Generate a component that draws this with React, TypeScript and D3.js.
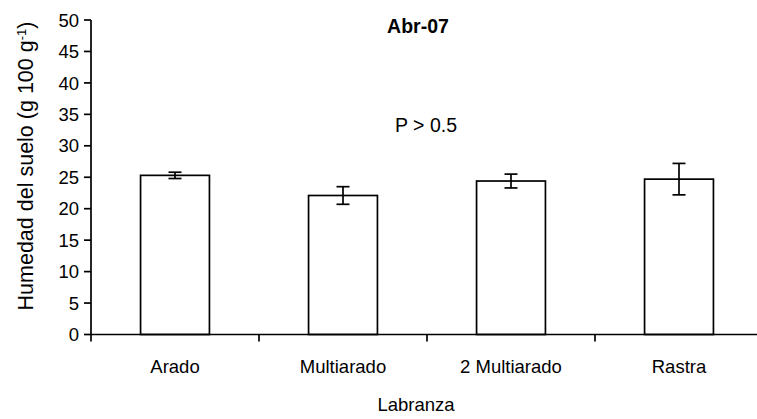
import React from "react";
import * as d3 from "d3";

const categories = ["Arado", "Multiarado", "2 Multiarado", "Rastra"];
const means = [25.3, 22.1, 24.4, 24.7];
const errors = [0.5, 1.4, 1.1, 2.5];
const yTicks = [0, 5, 10, 15, 20, 25, 30, 35, 40, 45, 50];

const W = 757;
const H = 419;
const left = 91;
const bandW = 168;
const top = 20;
const bottom = 334.5;
const font = "Arial, 'Liberation Sans', sans-serif";
const fs = 18.5;

export default function App() {
  const x = d3
    .scaleBand<string>()
    .domain(categories)
    .range([left, left + bandW * categories.length])
    .paddingInner(0.59)
    .paddingOuter(0.295);
  const y = d3.scaleLinear().domain([0, 50]).range([bottom, top]);
  const bw = x.bandwidth();
  const step = x.step();
  const capW = 13;
  const sw = 1.7;

  return (
    <svg
      width={W}
      height={H}
      style={{ position: "absolute", left: 0, top: 0, background: "#fff" }}
      fontFamily={font}
    >
      {/* bars */}
      {categories.map((c, i) => (
        <rect
          key={c}
          x={x(c)!}
          y={y(means[i])}
          width={bw}
          height={y(0) - y(means[i])}
          fill="#fff"
          stroke="#000"
          strokeWidth={sw}
        />
      ))}
      {/* error bars */}
      {categories.map((c, i) => {
        const cx = x(c)! + bw / 2;
        const hi = y(means[i] + errors[i]);
        const lo = y(means[i] - errors[i]);
        return (
          <g key={c} stroke="#000" strokeWidth={sw}>
            <line x1={cx} x2={cx} y1={hi} y2={lo} />
            <line x1={cx - capW / 2} x2={cx + capW / 2} y1={hi} y2={hi} />
            <line x1={cx - capW / 2} x2={cx + capW / 2} y1={lo} y2={lo} />
          </g>
        );
      })}
      {/* y axis */}
      <line x1={left} x2={left} y1={top} y2={bottom} stroke="#000" strokeWidth={sw} />
      {yTicks.map((t) => (
        <g key={t}>
          <line x1={left - 7} x2={left} y1={y(t)} y2={y(t)} stroke="#000" strokeWidth={sw} />
          <text
            x={left - 12}
            y={y(t)}
            dy="0.36em"
            textAnchor="end"
            fontSize={fs}
          >
            {t}
          </text>
        </g>
      ))}
      {/* x axis */}
      <line x1={left} x2={W} y1={bottom} y2={bottom} stroke="#000" strokeWidth={sw} />
      {d3.range(categories.length + 1).map((k) => (
        <line
          key={k}
          x1={left + k * step}
          x2={left + k * step}
          y1={bottom}
          y2={bottom + 7}
          stroke="#000"
          strokeWidth={sw}
        />
      ))}
      {categories.map((c) => (
        <text key={c} x={x(c)! + bw / 2} y={373} textAnchor="middle" fontSize={fs}>
          {c}
        </text>
      ))}
      <text x={416} y={411} textAnchor="middle" fontSize={fs}>
        Labranza
      </text>
      <text
        transform={`translate(33,166) rotate(-90)`}
        textAnchor="middle"
        fontSize={21.5}
      >
        Humedad del suelo (g 100 g
        <tspan baselineShift="super" fontSize={13}>-1</tspan>)
      </text>
      <text x={418} y={33} textAnchor="middle" fontSize={19.5} fontWeight="bold">
        Abr-07
      </text>
      <text x={426} y={132} textAnchor="middle" fontSize={19.5}>
        P &gt; 0.5
      </text>
    </svg>
  );
}
